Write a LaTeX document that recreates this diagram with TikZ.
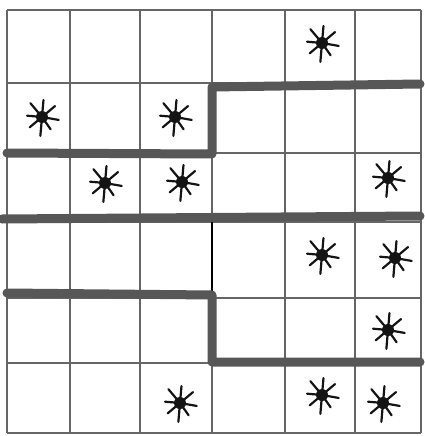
\documentclass[tikz,border=0pt]{standalone}
\begin{document}
\begin{tikzpicture}[x=1pt,y=-1pt,
  gridline/.style={draw=black!60,line width=1.2pt},
  wall/.style={draw=black!66,line width=9pt,line join=round,line cap=round},
  spider/.pic={
    \fill[black!92] (0,0) circle (6);
    \foreach \a/\l in {10/17,55/15,95/19,140/16,185/15,230/18,275/17,320/17}
      \draw[black!92,line width=2.2pt,line cap=round] (0,0) -- (\a:\l);
  }]
\useasboundingbox (0,0) rectangle (424,436);
% thin grid
\foreach \x in {7,70,140,212,285,355,421}
  \draw[gridline] (\x,10) -- (\x,433);
\foreach \y in {10,83,153,222,298,363,433}
  \draw[gridline] (7,\y) -- (421,\y);
\draw[black,line width=1.6pt] (212,222) -- (212,294);
% walls
\draw[wall] (7,153) -- (212,154) -- (212,87) -- (420,84);
\draw[wall] (2,219) -- (420,216);
\draw[wall] (7,293) -- (212,295) -- (212,362) -- (420,362);
% spiders
\pic at (322,43) {spider};
\pic at (42,117) {spider};
\pic at (175,117) {spider};
\pic at (105,183) {spider};
\pic at (182,182) {spider};
\pic at (388,178) {spider};
\pic at (322,255) {spider};
\pic at (395,258) {spider};
\pic at (388,330) {spider};
\pic at (180,403) {spider};
\pic at (322,395) {spider};
\pic at (383,403) {spider};
\end{tikzpicture}
\end{document}
